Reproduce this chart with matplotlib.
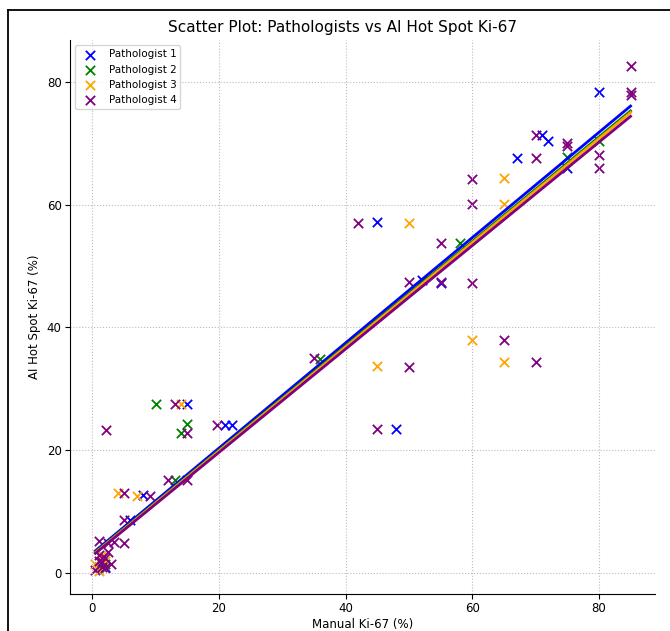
import numpy as np
import matplotlib.pyplot as plt
from matplotlib.lines import Line2D

# values
p1_manual = [80, 71, 72, 67, 75, 45, 52, 55, 48, 15, 21, 22, 6, 8, 1.5, 2]
p1_ai = [78.3, 71.3, 70.4, 67.6, 66, 57.2, 47.7, 47.2, 23.4, 27.5, 24.1, 24.1, 8.6, 12.7, 2.5, 1]

p2_manual = [10, 15, 14, 13, 36, 58, 75, 80, 1, 2]
p2_ai = [27.5, 24.3, 22.8, 15.1, 34.9, 53.7, 67.8, 70.4, 1, 1.5]

p3_manual = [14, 50, 65, 65, 60, 45, 65, 4, 7, 0.5, 1, 2, 1.5]
p3_ai = [27.5, 57.0, 64.3, 60.1, 37.9, 33.7, 34.4, 13.0, 12.5, 1.5, 0.3, 2, 3]

p4_manual = [2.2, 13, 15, 19.7, 12, 15, 5, 9.2, 5, 35, 42, 55, 50, 55, 60, 60, 60,
             50, 65, 70, 45, 70, 70, 75, 75, 80, 80, 85, 85, 85,
             1, 2.5, 3.5, 5, 3, 1, 2, 1.5, 0.5, 2, 1, 2.5, 1.5]
p4_ai = [23.3, 27.5, 22.8, 24.1, 15.1, 15.1, 13.0, 12.5, 8.6, 35.0, 57.0, 53.7, 47.4, 47.4, 47.2, 60.1, 64.2,
         33.6, 37.9, 34.4, 23.4, 71.3, 67.6, 70.0, 69.6, 68.1, 66.0, 82.6, 78.3, 77.9,
         5.2, 4.9, 5.0, 4.9, 1.5, 3.0, 2.5, 1.0, 0.5, 0.8, 2.0, 3.5, 1.8]

# fitted trend lines as they appear in the picture (slope, intercept)
fit_slopes = [0.857, 0.850, 0.848, 0.842]
fit_intercepts = [3.2, 3.0, 2.9, 2.8]
fit_range = [0.5, 85]

labels = ['Pathologist 1', 'Pathologist 2', 'Pathologist 3', 'Pathologist 4']
colors = ['blue', 'green', 'orange', 'purple']

fig = plt.figure(figsize=(6.7, 6.31), dpi=100)
ax = fig.add_axes([0.1045, 0.0586, 0.8735, 0.878])

series = [(p1_manual, p1_ai), (p2_manual, p2_ai), (p3_manual, p3_ai), (p4_manual, p4_ai)]
xs = np.array(fit_range)

for (mx, my), lab, c in zip(series, labels, colors):
    ax.scatter(mx, my, marker='x', color=c, s=45, linewidths=1.3, label=lab)

for k, b, c in zip(fit_slopes, fit_intercepts, colors):
    ax.plot(xs, k * xs + b, color=c, linewidth=2)

ax.set_xlim(-3.5, 88.9)
ax.set_ylim(-3.4, 86.8)
ax.set_xticks([0, 20, 40, 60, 80])
ax.set_yticks([0, 20, 40, 60, 80])
ax.tick_params(labelsize=8.5, pad=2.5)
ax.spines['top'].set_visible(False)
ax.spines['right'].set_visible(False)
ax.grid(True, linestyle=':', color='#bbbbbb', linewidth=0.8)

ax.set_xlabel('Manual Ki-67 (%)', fontsize=8.5, labelpad=2)
ax.set_ylabel('AI Hot Spot Ki-67 (%)', fontsize=8.5)
ax.set_title('Scatter Plot: Pathologists vs AI Hot Spot Ki-67', fontsize=11, x=0.465)
ax.legend(loc='upper left', fontsize=7.5)

# screenshot frame
fig.add_artist(Line2D([8 / 670, 8 / 670], [0, 1 - 10 / 631], color='black', lw=1.3, transform=fig.transFigure))
fig.add_artist(Line2D([8 / 670, 1], [1 - 10 / 631, 1 - 10 / 631], color='black', lw=1.3, transform=fig.transFigure))

plt.savefig('out.png', dpi=100)
